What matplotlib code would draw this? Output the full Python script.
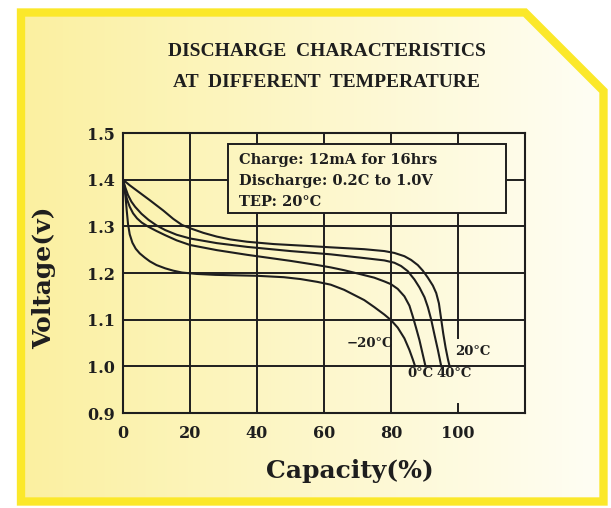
import numpy as np
import matplotlib
matplotlib.use("Agg")
import matplotlib.pyplot as plt
from matplotlib.patches import Polygon, Rectangle

# Discharge curves: capacity (%) and voltage (V)
cap_20c = [0, 2, 5, 8, 12, 15, 17.6, 20, 24, 28, 32, 37, 45, 55, 62, 72, 78, 81, 84, 86,
           88, 89.5, 91, 92.5, 93.5, 94.3, 95, 95.6, 96.3, 97, 97.5]
volt_20c = [1.40, 1.388, 1.372, 1.356, 1.334, 1.316, 1.303, 1.296, 1.286, 1.278, 1.272,
            1.267, 1.262, 1.258, 1.255, 1.251, 1.247, 1.243, 1.236, 1.228, 1.217, 1.205,
            1.19, 1.173, 1.157, 1.135, 1.10, 1.07, 1.04, 1.015, 1.0]

cap_40c = [0, 0.7, 1.5, 2.5, 3.6, 5.5, 7.6, 10, 12.6, 16, 20, 28, 37, 50, 62, 72, 78, 81,
           83, 85, 87, 88.5, 90, 91, 92, 93, 94, 95]
volt_40c = [1.40, 1.383, 1.367, 1.353, 1.342, 1.327, 1.314, 1.302, 1.292, 1.282, 1.274,
            1.264, 1.256, 1.247, 1.240, 1.232, 1.227, 1.222, 1.215, 1.204, 1.186, 1.169,
            1.148, 1.127, 1.10, 1.067, 1.035, 1.0]

cap_0c = [0, 0.5, 1.2, 2, 3, 4.2, 5.6, 7.6, 10, 12.6, 16, 20, 28, 37, 50, 58, 62, 66, 70,
          75, 78, 80, 82, 84, 85.5, 86.5, 87.5, 88.5, 89.4, 90.3]
volt_0c = [1.40, 1.38, 1.358, 1.342, 1.328, 1.317, 1.308, 1.299, 1.29, 1.281, 1.27, 1.26,
           1.249, 1.239, 1.226, 1.217, 1.212, 1.206, 1.199, 1.19, 1.182, 1.176, 1.166,
           1.15, 1.13, 1.107, 1.082, 1.056, 1.028, 1.0]

cap_m20c = [0, 0.4, 0.8, 1.1, 1.5, 2, 2.8, 3.8, 5, 6.5, 8, 10, 12.6, 15, 17.6, 22, 27.6,
            40, 48, 53, 58, 62, 66, 69, 72, 75, 78, 80, 82, 84, 85.5, 86.5, 87.2]
volt_m20c = [1.40, 1.385, 1.36, 1.335, 1.305, 1.283, 1.265, 1.252, 1.242, 1.233, 1.225,
             1.217, 1.21, 1.205, 1.201, 1.198, 1.196, 1.194, 1.191, 1.187, 1.181, 1.175,
             1.164, 1.153, 1.142, 1.127, 1.111, 1.099, 1.083, 1.06, 1.035, 1.015, 1.0]

x_ticks = [0, 20, 40, 60, 80, 100]
y_ticks = [0.9, 1.0, 1.1, 1.2, 1.3, 1.4, 1.5]

W, H = 611, 508
left_col = np.array([251, 240, 160]) / 255
right_col = np.array([255, 254, 245]) / 255
ink = "#1e1e1e"
serif = "DejaVu Serif"


def shade(px):
    # background colour at horizontal pixel position px
    t = np.clip((np.asarray(px, float) - 21) / (603 - 21), 0, 1)
    return left_col + (right_col - left_col) * t[..., None]


fig = plt.figure(figsize=(W / 100, H / 100), dpi=100)
fig.patch.set_facecolor("white")

# background panel with yellow frame and cut corner
bg = fig.add_axes([0, 0, 1, 1])
bg.set_xlim(0, W)
bg.set_ylim(H, 0)
bg.axis("off")
corner = [(21, 12.5), (525, 12.5), (603.5, 91), (603.5, 501.5), (21, 501.5)]
xs = np.arange(21, 604)
im = bg.imshow(shade(xs)[None, :, :], extent=[21, 603.5, 501.5, 12.5], aspect="auto",
               interpolation="bilinear")
clip = Polygon(corner, closed=True, transform=bg.transData, facecolor="none", edgecolor="none")
bg.add_patch(clip)
im.set_clip_path(clip)
bg.add_patch(Polygon(corner, closed=True, fill=False, edgecolor="#fbe82a",
                     linewidth=6, joinstyle="miter"))

fig.text(0.535, 1 - 52 / H, "DISCHARGE  CHARACTERISTICS", ha="center", va="center",
         family="Liberation Serif", weight="bold", fontsize=14, color=ink)
fig.text(0.535, 1 - 83 / H, "AT  DIFFERENT  TEMPERATURE", ha="center", va="center",
         family="Liberation Serif", weight="bold", fontsize=14, color=ink)

# main chart
ax = fig.add_axes([123 / W, 1 - 413 / H, (525 - 123) / W, (413 - 133) / H])
ax.set_facecolor("none")

grid_kw = dict(color=ink, linewidth=1.4, zorder=1)
for yv in y_ticks[1:-1]:
    ax.axhline(yv, **grid_kw)
for xv in x_ticks[1:-1]:
    ax.axvline(xv, **grid_kw)
ax.plot([100, 100], [1.06, 1.5], **grid_kw)
ax.plot([100, 100], [0.9, 0.92], **grid_kw)

# conditions box, filled with the local background colour
bx0, bx1, by0, by1 = 31.4, 114.4, 1.329, 1.4765
box_px = np.linspace(123 + bx0 * 3.35, 123 + bx1 * 3.35, 200)
ax.imshow(shade(box_px)[None, :, :], extent=[bx0, bx1, by0, by1], aspect="auto",
          zorder=2, interpolation="bilinear")
ax.add_patch(Rectangle((bx0, by0), bx1 - bx0, by1 - by0, fill=False, edgecolor=ink,
                       linewidth=1.4, zorder=3))
box_lines = ["Charge: 12mA for 16hrs", "Discharge: 0.2C to 1.0V", "TEP: 20°C"]
for i, line in enumerate(box_lines):
    ax.text(34.5, 1.442 - i * 0.045, line, ha="left", va="center", family=serif,
            weight="bold", fontsize=10.5, color=ink, zorder=4)
ax.set_xlim(0, 120)
ax.set_ylim(0.9, 1.5)

for cx, cy in [(cap_20c, volt_20c), (cap_40c, volt_40c), (cap_0c, volt_0c),
               (cap_m20c, volt_m20c)]:
    ax.plot(cx, cy, color=ink, linewidth=1.5, zorder=4, solid_joinstyle="round")

lab_kw = dict(family=serif, weight="bold", fontsize=9.5, color=ink, va="center", zorder=5)
ax.text(80.7, 1.048, "\u221220°C", ha="right", **lab_kw)
ax.text(99.1, 1.031, "20°C", ha="left", **lab_kw)
ax.text(88.7, 0.984, "0°C", ha="center", **lab_kw)
ax.text(98.8, 0.984, "40°C", ha="center", **lab_kw)

for s in ax.spines.values():
    s.set_color(ink)
    s.set_linewidth(1.5)
    s.set_zorder(6)

ax.set_xticks(x_ticks)
ax.set_yticks(y_ticks)
ax.set_yticklabels([f"{v:.1f}" for v in y_ticks])
ax.tick_params(length=0)
ax.tick_params(axis="x", pad=9)
ax.tick_params(axis="y", pad=6)
for lab in ax.get_xticklabels() + ax.get_yticklabels():
    lab.set_family(serif)
    lab.set_weight("bold")
    lab.set_fontsize(11.5)
    lab.set_color(ink)

fig.text(349.5 / W, 1 - 471 / H, "Capacity(%)", ha="center", va="center",
         family=serif, weight="bold", fontsize=18, color=ink)
fig.text(44 / W, 1 - 278 / H, "Voltage(v)", ha="center", va="center", rotation=90,
         family=serif, weight="bold", fontsize=18, color=ink)

fig.savefig("out.png", dpi=100)
